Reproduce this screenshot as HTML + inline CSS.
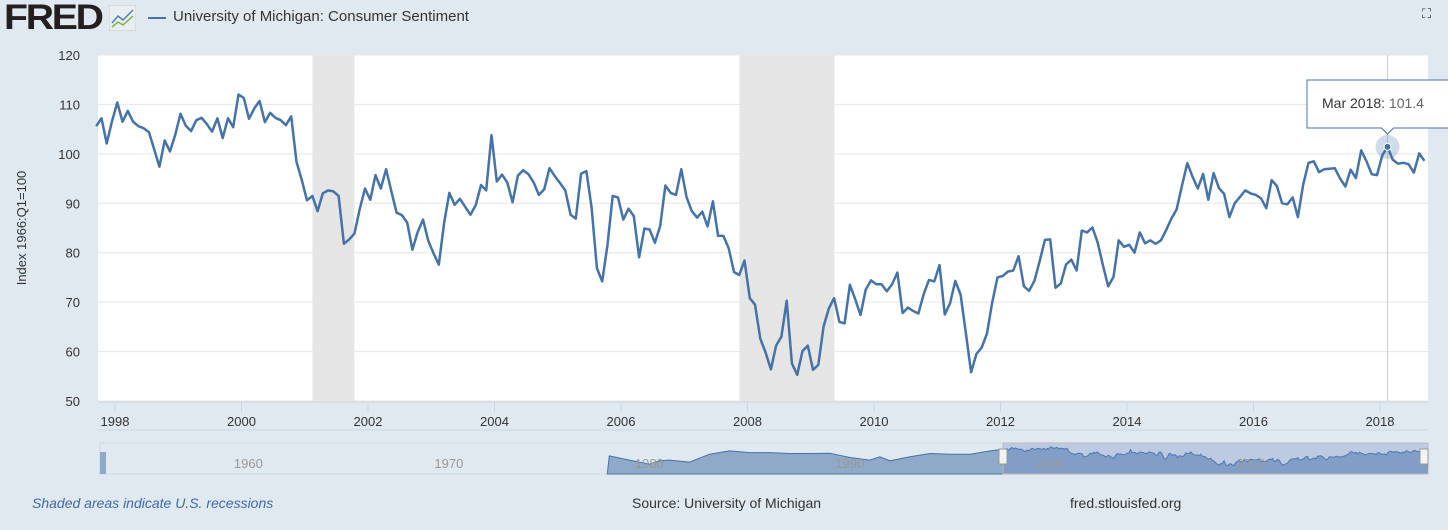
<!DOCTYPE html>
<html><head><meta charset="utf-8"><style>
body{margin:0;width:1448px;height:530px;background:#e1e9f0;font-family:"Liberation Sans",sans-serif;overflow:hidden;position:relative}
.t{position:absolute;white-space:nowrap}
</style></head><body>
<div class="t" style="left:4px;top:-2px;font-size:35px;font-weight:bold;color:#231f20;letter-spacing:-2px;transform:scaleX(1.12);transform-origin:left top">FRED</div>
<svg class="t" style="left:109px;top:5px" width="27" height="26"><rect width="27" height="26" rx="2" fill="#e8eef2" stroke="#ccc"/><polyline points="3,18 9,11 14,15 24,5" fill="none" stroke="#4a7fb5" stroke-width="1.5"/><polyline points="3,22 9,17 14,20 24,11" fill="none" stroke="#7fb33f" stroke-width="1.5"/></svg>
<div class="t" style="left:148px;top:17px;width:18px;height:2px;background:#4572a7"></div>
<div class="t" style="left:173px;top:8px;font-size:15px;color:#333">University of Michigan: Consumer Sentiment</div>
<div class="t" style="left:1422px;top:6px;font-size:13px;color:#333">⛶</div>
<svg id="c" class="t" style="left:0;top:0" width="1448" height="530"></svg>
<div class="t" style="left:32px;top:495px;font-size:14px;font-style:italic;color:#3d6aa8">Shaded areas indicate U.S. recessions</div>
<div class="t" style="left:632px;top:495px;font-size:14px;color:#333">Source: University of Michigan</div>
<div class="t" style="left:1070px;top:495px;font-size:14px;color:#333">fred.stlouisfed.org</div>
<script>
const startYear=1997, startMonth=9; // Oct 1997 (0-based month)
const values=[105.6,107.2,102.1,
106.6,110.4,106.5,108.7,106.5,105.6,105.2,104.4,100.9,97.4,102.7,100.5,
103.9,108.1,105.7,104.6,106.8,107.3,106.0,104.5,107.2,103.2,107.2,105.4,
112.0,111.3,107.1,109.2,110.7,106.4,108.3,107.3,106.8,105.8,107.6,98.4,
94.7,90.6,91.5,88.4,92.0,92.6,92.4,91.5,81.8,82.7,83.9,88.8,
93.0,90.7,95.7,93.0,96.9,92.4,88.1,87.6,86.1,80.6,84.2,86.7,
82.4,79.9,77.6,86.0,92.1,89.7,90.9,89.3,87.7,89.6,93.7,92.6,
103.8,94.4,95.8,94.2,90.2,95.6,96.7,95.9,94.2,91.7,92.8,97.1,
95.5,94.1,92.6,87.7,86.9,96.0,96.5,89.1,76.9,74.2,81.6,91.5,
91.2,86.7,88.9,87.4,79.1,84.9,84.7,82.0,85.4,93.6,92.1,91.7,
96.9,91.3,88.4,87.1,88.3,85.3,90.4,83.4,83.4,80.9,76.1,75.5,
78.4,70.8,69.5,62.6,59.8,56.4,61.2,63.0,70.3,57.6,55.3,60.1,
61.2,56.3,57.3,65.1,68.7,70.8,66.0,65.7,73.5,70.6,67.4,72.5,
74.4,73.6,73.6,72.2,73.6,76.0,67.8,68.9,68.2,67.7,71.6,74.5,
74.2,77.5,67.5,69.8,74.3,71.5,63.7,55.8,59.5,60.8,63.7,69.9,
75.0,75.3,76.2,76.4,79.3,73.2,72.3,74.3,78.3,82.6,82.7,72.9,
73.8,77.6,78.6,76.4,84.5,84.1,85.1,82.1,77.5,73.2,75.1,82.5,
81.2,81.6,80.0,84.1,81.9,82.5,81.8,82.5,84.6,86.9,88.8,93.6,
98.1,95.4,93.0,95.9,90.7,96.1,93.1,91.9,87.2,90.0,91.3,92.6,
92.0,91.7,91.0,89.0,94.7,93.5,90.0,89.8,91.2,87.2,93.8,98.2,
98.5,96.3,96.9,97.0,97.1,95.0,93.4,96.8,95.1,100.7,98.5,95.9,
95.7,99.7,101.4,98.8,98.0,98.2,97.9,96.2,100.1,98.6];
const yTicks=[50,60,70,80,90,100,110,120];
const xTicks=[1998,2000,2002,2004,2006,2008,2010,2012,2014,2016,2018];
const recessions=[[2001.17,2001.83],[2007.92,2009.42]];
const hoverIndex=245;
const L=98,R=1428,T=55,B=401;
const X=t=>115+(t-1998)*63.25;
const XD=t=>X(t)-3;
const Y=v=>B-(v-50)*(B-T)/70;
const tOf=i=>startYear+(startMonth+i)/12;
const s=document.getElementById('c');const NS='http://www.w3.org/2000/svg';
function mk(tag,a,p){const e=document.createElementNS(NS,tag);for(const k in a)e.setAttribute(k,a[k]);(p||s).appendChild(e);return e;}
let e=mk('rect',{x:L,y:T,width:R-L,height:B-T,fill:'#fff'});


recessions.forEach(r=>{const el=mk('rect',{x:XD(r[0]),y:T,width:X(r[1])-X(r[0]),height:B-T,fill:'#e5e5e5'});

});
yTicks.forEach(v=>{const g=mk('line',{x1:L,x2:R,y1:Y(v),y2:Y(v),stroke:'#e6e6e6','stroke-width':1});


const t=mk('text',{x:80,y:Y(v)+5,'text-anchor':'end','font-size':13,fill:'#333','font-family':'Liberation Sans'});t.textContent=v;

});
mk('line',{x1:L,x2:R,y1:B+1,y2:B+1,stroke:'#ccd6e0'});
xTicks.forEach(v=>{const l=mk('line',{x1:X(v),x2:X(v),y1:B+1,y2:B+11,stroke:'#ccd6e0'});


const t=mk('text',{x:X(v),y:426,'text-anchor':'middle','font-size':13,fill:'#333','font-family':'Liberation Sans'});t.textContent=v;

});
mk('line',{x1:L,x2:R,y1:430,y2:430,stroke:'#ccd6e0'});
const yt=mk('text',{x:26,y:228,transform:'rotate(-90 26 228)','text-anchor':'middle','font-size':13,fill:'#333','font-family':'Liberation Sans'});yt.textContent='Index 1966:Q1=100';


const hx=XD(tOf(hoverIndex));
mk('line',{x1:hx,x2:hx,y1:T,y2:B,stroke:'#ccc'});
const pts=values.map((v,i)=>XD(tOf(i)).toFixed(1)+','+Y(v).toFixed(1)).join(' ');
const ln=mk('polyline',{points:pts,fill:'none',stroke:'#4572a7','stroke-width':2.5,'stroke-linejoin':'round'});


mk('circle',{cx:hx,cy:Y(values[hoverIndex]),r:12,fill:'rgba(69,114,167,0.25)'});
const dot=mk('circle',{cx:hx,cy:Y(values[hoverIndex]),r:3.5,fill:'#4572a7',stroke:'#fff','stroke-width':1});


mk('rect',{x:R,y:T,width:20,height:B-T,fill:'#e1e9f0'});
const tip=mk('path',{d:`M1307,80 H1450 V128 H${hx+6} L${hx},134 L${hx-6},128 H1307 Z`,fill:'#fff',stroke:'#4572a7','stroke-width':1});


const tt=mk('text',{x:1322,y:108,'font-size':14,fill:'#333','font-family':'Liberation Sans'});
tt.innerHTML='<tspan>Mar 2018:</tspan><tspan fill="#666"> '+values[hoverIndex].toFixed(1)+'</tspan>';


// navigator
const nv=mk('rect',{x:100,y:443,width:1328,height:31,fill:'#e1e9f0',stroke:'#ccd6e0'});


const NX=yr=>100+(yr-1952.6)*20.05;
const NY=v=>474-(v-30)*0.33;
mk('rect',{x:100,y:452,width:6,height:22,fill:'#8fa9c9'});
let np='M'+NX(1977.9)+',474 ';
const navAnchors=[[1978,85],[1979,72],[1980,60],[1980.5,70],[1981,72],[1982,66],[1983,90],[1984,100],[1985,95],[1986,95],[1987,92],[1988,92],[1989,93],[1990,80],[1991,72],[1991.5,82],[1992,70],[1993,82],[1994,92],[1995,90],[1996,90],[1997,100]];
navAnchors.forEach(a=>np+='L'+NX(a[0]).toFixed(1)+','+NY(a[1]).toFixed(1)+' ');
values.forEach((v,i)=>np+='L'+NX(tOf(i)).toFixed(1)+','+NY(v).toFixed(1)+' ');
np+='L1428,474 Z';
const na=mk('path',{d:np,fill:'#8fa9c9',stroke:'#4572a7','stroke-width':1});


const sel=mk('rect',{x:1003,y:443,width:425,height:31,fill:'rgba(102,133,194,0.3)',stroke:'#bbb'});


[[1960,NX(1960)],[1970,NX(1970)],[1980,NX(1980)],[1990,NX(1990)],[2000,NX(2000)],[2010,NX(2010)]].forEach(a=>{const t=mk('text',{x:a[1],y:468,'text-anchor':'middle','font-size':13,fill:'#999','font-family':'Liberation Sans'});t.textContent=a[0];

});
[1003,1424].forEach(x=>{const h=mk('rect',{x:x-4,y:449,width:8,height:15,fill:'#f2f2f2',stroke:'#999'});

});
</script>
</body></html>
